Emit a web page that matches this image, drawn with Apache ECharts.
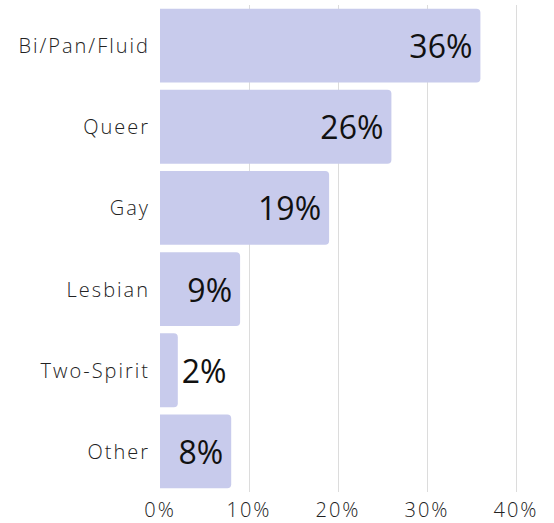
<!DOCTYPE html>
<html>
<head>
<meta charset="utf-8">
<script src="https://cdn.jsdelivr.net/npm/echarts@6/dist/echarts.min.js"></script>
<style>
  html, body { margin: 0; padding: 0; background: #fff; }
  #chart { width: 554px; height: 523px; }
  /* the axis labels in the original are set quite loose */
  #chart text[style*="20px"] { letter-spacing: 2px; }
</style>
</head>
<body>
<div id="chart"></div>
<script>
const categories = ["Bi/Pan/Fluid", "Queer", "Gay", "Lesbian", "Two-Spirit", "Other"];
const values = [36, 26, 19, 9, 2, 8];
const xTicks = [0, 10, 20, 30, 40];

const chart = echarts.init(document.getElementById("chart"), null, { renderer: "svg" });

const option = {
  animation: false,
  grid: {
    left: 160,
    right: 38,
    top: 5,
    bottom: 31
  },
  xAxis: {
    type: "value",
    min: xTicks[0],
    max: xTicks[xTicks.length - 1],
    interval: 10,
    axisLine: { show: false },
    axisTick: { show: false },
    splitLine: {
      show: true,
      showMinLine: false,
      lineStyle: { color: "#dcdcdc", width: 1 }
    },
    axisLabel: {
      formatter: "{value}%",
      fontFamily: "Open Sans",
      fontWeight: 300,
      fontSize: 20,
      color: "#222",
      margin: 7
    }
  },
  yAxis: {
    type: "category",
    inverse: true,
    data: categories,
    axisLine: { show: false },
    axisTick: { show: false },
    axisLabel: {
      fontFamily: "Open Sans",
      fontWeight: 300,
      fontSize: 20,
      color: "#222",
      margin: 10
    }
  },
  series: [
    {
      type: "bar",
      barCategoryGap: "9%",
      itemStyle: {
        color: "#c8cbec",
        borderRadius: [0, 4, 4, 0]
      },
      label: {
        show: true,
        position: "insideRight",
        distance: 8,
        formatter: "{c}%",
        fontFamily: "Open Sans",
        fontSize: 32,
        color: "#111"
      },
      data: values.map(function (v) {
        // tiny bars get their label outside the bar
        if (v < 5) {
          return { value: v, label: { position: "right", distance: 4 } };
        }
        return v;
      })
    }
  ]
};

chart.setOption(option);

window.addEventListener("resize", () => {
  chart.resize();
});
</script>
</body>
</html>
